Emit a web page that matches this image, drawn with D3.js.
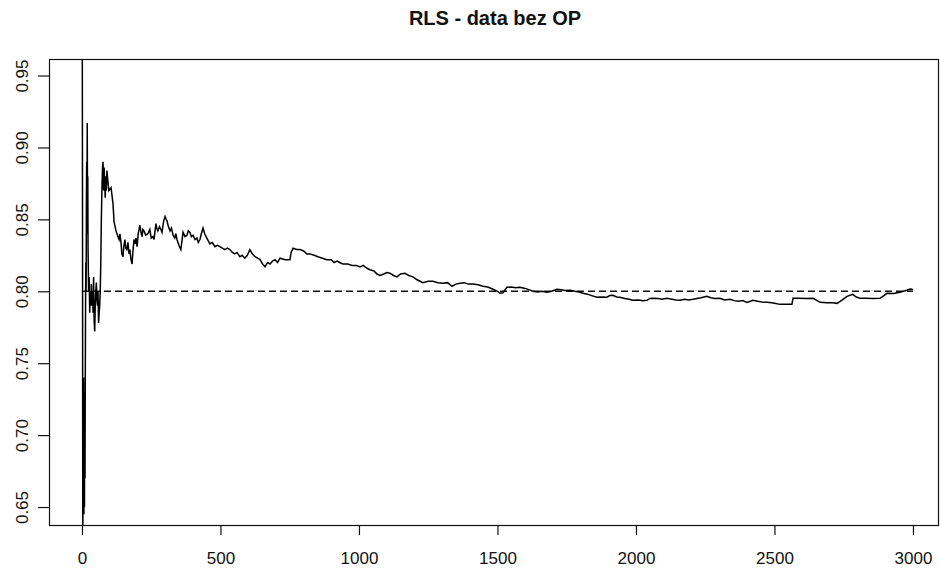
<!DOCTYPE html>
<html>
<head>
<meta charset="utf-8">
<script src="https://cdn.jsdelivr.net/npm/d3@7"></script>
<style>
  html, body { margin: 0; padding: 0; background: #fff; }
  svg { display: block; }
  text { font-family: "Liberation Sans", Arial, sans-serif; fill: #111; }
</style>
</head>
<body>
<svg id="chart" width="940" height="571"></svg>
<script>
const title = "RLS - data bez OP";
const xTicks = [0, 500, 1000, 1500, 2000, 2500, 3000];
const yTicks = [0.65, 0.70, 0.75, 0.80, 0.85, 0.90, 0.95];
const refLevel = [0.80];
const refRange = [0, 3000];

// observation index
const steps = [
  1, 2, 3, 4, 5, 6, 7, 8, 9, 10, 11, 12, 13, 14, 15, 16, 17, 18, 19, 20,
  21, 22, 24, 26, 28, 30, 32, 34, 36, 38, 40, 42, 44, 46, 48, 50, 52, 54, 56, 58,
  60, 62, 64, 66, 68, 70, 72, 74, 76, 78, 80, 82, 84, 86, 88, 90, 97, 105, 112, 116,
  123, 130, 134, 137, 141, 144, 148, 151, 155, 158, 162, 166, 170, 173, 177, 181, 184, 188, 192, 195,
  199, 203, 209, 213, 217, 220, 224, 230, 238, 245, 250, 256, 260, 264, 267, 270, 274, 280, 285, 289,
  295, 300, 304, 307, 312, 318, 323, 329, 335, 339, 343, 350, 357, 361, 365, 372, 379, 384, 390, 395,
  401, 408, 415, 420, 426, 431, 437, 443, 451, 456, 462, 470, 480, 489, 498, 507, 516, 525, 534, 543,
  552, 560, 570, 578, 588, 597, 606, 615, 625, 634, 643, 652, 661, 670, 679, 688, 697, 706, 715, 733,
  751, 755, 762, 775, 787, 800, 812, 823, 838, 852, 868, 884, 900, 910, 921, 930, 942, 960, 975, 990,
  1004, 1015, 1029, 1040, 1055, 1065, 1076, 1090, 1100, 1112, 1125, 1137, 1150, 1166, 1180, 1195, 1210, 1231, 1250, 1267,
  1285, 1303, 1320, 1336, 1350, 1365, 1380, 1395, 1412, 1430, 1448, 1465, 1484, 1500, 1509, 1520, 1534, 1550, 1565, 1581,
  1600, 1615, 1628, 1645, 1660, 1679, 1695, 1715, 1730, 1745, 1762, 1780, 1795, 1809, 1825, 1840, 1859, 1875, 1895, 1905,
  1917, 1930, 1942, 1960, 1975, 1989, 2010, 2025, 2040, 2050, 2061, 2080, 2095, 2112, 2130, 2145, 2159, 2175, 2190, 2206,
  2220, 2235, 2256, 2270, 2285, 2303, 2320, 2339, 2355, 2370, 2385, 2401, 2422, 2440, 2455, 2473, 2490, 2505, 2520, 2540,
  2563, 2567, 2590, 2615, 2639, 2650, 2664, 2690, 2710, 2726, 2745, 2762, 2783, 2795, 2809, 2830, 2855, 2881, 2895, 2906,
  2930, 2953, 2965, 2978, 2990, 2996, 3000
];
// estimated RLS coefficient
const estimate = [
  1.00, 0.852, 0.62, 0.70, 0.66, 0.74, 0.645, 0.72, 0.65, 0.73, 0.67, 0.74, 0.79, 0.82, 0.80, 0.86, 0.89, 0.84, 0.917, 0.865,
  0.88, 0.83, 0.80, 0.81, 0.785, 0.80, 0.79, 0.805, 0.79, 0.80, 0.785, 0.81, 0.78, 0.772, 0.79, 0.80, 0.806, 0.795, 0.79, 0.80,
  0.778, 0.785, 0.79, 0.80, 0.82, 0.85, 0.87, 0.885, 0.89, 0.87, 0.886, 0.875, 0.865, 0.88, 0.87, 0.884, 0.870, 0.872, 0.861, 0.848,
  0.842, 0.838, 0.836, 0.840, 0.834, 0.826, 0.824, 0.831, 0.836, 0.830, 0.829, 0.834, 0.826, 0.829, 0.822, 0.819, 0.828, 0.836, 0.833, 0.837,
  0.831, 0.840, 0.846, 0.841, 0.838, 0.843, 0.842, 0.839, 0.840, 0.843, 0.837, 0.838, 0.836, 0.842, 0.847, 0.844, 0.842, 0.845, 0.843, 0.841,
  0.849, 0.852, 0.850, 0.849, 0.845, 0.842, 0.844, 0.839, 0.837, 0.840, 0.836, 0.832, 0.829, 0.835, 0.841, 0.838, 0.839, 0.842, 0.841, 0.838,
  0.839, 0.836, 0.837, 0.834, 0.836, 0.840, 0.844, 0.840, 0.837, 0.835, 0.833, 0.834, 0.831, 0.832, 0.831, 0.830, 0.829, 0.830, 0.829, 0.827,
  0.826, 0.827, 0.824, 0.825, 0.823, 0.825, 0.829, 0.826, 0.824, 0.823, 0.822, 0.819, 0.817, 0.820, 0.819, 0.821, 0.822, 0.820, 0.823, 0.822,
  0.822, 0.827, 0.830, 0.829, 0.829, 0.828, 0.826, 0.826, 0.825, 0.824, 0.823, 0.822, 0.822, 0.820, 0.821, 0.820, 0.819, 0.819, 0.818, 0.818,
  0.817, 0.818, 0.816, 0.815, 0.814, 0.812, 0.811, 0.812, 0.813, 0.8125, 0.811, 0.810, 0.812, 0.8125, 0.811, 0.810, 0.808, 0.806, 0.807, 0.807,
  0.806, 0.8056, 0.806, 0.8035, 0.805, 0.8056, 0.806, 0.805, 0.805, 0.8045, 0.8035, 0.803, 0.8014, 0.800, 0.7986, 0.799, 0.8028, 0.803, 0.8025, 0.8028,
  0.802, 0.801, 0.800, 0.7995, 0.800, 0.7993, 0.800, 0.8014, 0.801, 0.8005, 0.8007, 0.800, 0.7995, 0.7986, 0.798, 0.797, 0.7958, 0.796, 0.7958, 0.797,
  0.7972, 0.796, 0.7958, 0.795, 0.7945, 0.7937, 0.794, 0.7935, 0.7937, 0.795, 0.7951, 0.795, 0.7945, 0.7951, 0.7945, 0.794, 0.7937, 0.7945, 0.794, 0.7944,
  0.795, 0.7955, 0.7965, 0.7955, 0.795, 0.7951, 0.794, 0.7944, 0.7935, 0.793, 0.7935, 0.7923, 0.7937, 0.793, 0.7925, 0.7923, 0.792, 0.7915, 0.7909, 0.7909,
  0.7909, 0.7951, 0.7951, 0.795, 0.7951, 0.794, 0.7923, 0.792, 0.792, 0.7916, 0.794, 0.7965, 0.7979, 0.796, 0.7951, 0.7951, 0.795, 0.7951, 0.797, 0.7986,
  0.7985, 0.7993, 0.800, 0.8007, 0.8015, 0.8014, 0.801
];

const svg = d3.select("#chart");
const box = { left: 49, right: 939, top: 59, bottom: 525 };

const x = d3.scaleLinear().domain([-119, 3094]).range([box.left, box.right]);
const y = d3.scaleLinear().domain([0.6375, 0.9615]).range([box.bottom, box.top]);

svg.append("defs").append("clipPath").attr("id", "plotclip")
  .append("rect")
  .attr("x", box.left).attr("y", box.top)
  .attr("width", box.right - box.left).attr("height", box.bottom - box.top);

// title
svg.append("text")
  .attr("x", 495).attr("y", 25)
  .attr("text-anchor", "middle")
  .style("font-size", "20px").style("font-weight", "bold")
  .text(title);

// frame
svg.append("rect")
  .attr("x", box.left + 0.5).attr("y", box.top + 0.5)
  .attr("width", box.right - box.left - 1).attr("height", box.bottom - box.top)
  .attr("fill", "none").attr("stroke", "#111").attr("stroke-width", 1.2);

// x axis
const xAxis = d3.axisBottom(x).tickValues(xTicks).tickSize(10).tickPadding(17).tickFormat(d3.format("d"));
const gx = svg.append("g").attr("transform", `translate(0,${box.bottom})`).call(xAxis);
gx.select(".domain").remove();
gx.selectAll(".tick line").attr("stroke", "#111").attr("stroke-width", 1.2);
gx.selectAll(".tick text").style("font-size", "17px").attr("fill", "#222")
  .style("font-family", "'Liberation Sans', Arial, sans-serif");

// y axis
const yAxis = d3.axisLeft(y).tickValues(yTicks).tickSize(11).tickFormat(d3.format(".2f"));
const gy = svg.append("g").attr("transform", `translate(${box.left},0)`).call(yAxis);
gy.select(".domain").remove();
gy.selectAll(".tick line").attr("stroke", "#111").attr("stroke-width", 1.2);
gy.selectAll(".tick text")
  .attr("x", null).attr("dy", null)
  .attr("transform", "translate(-21,0) rotate(-90)")
  .attr("text-anchor", "middle")
  .style("font-size", "17px").attr("fill", "#222")
  .style("font-family", "'Liberation Sans', Arial, sans-serif");

const plot = svg.append("g").attr("clip-path", "url(#plotclip)");

// reference dashed line
plot.append("line")
  .attr("x1", x(refRange[0])).attr("x2", x(refRange[1]))
  .attr("y1", y(refLevel[0])).attr("y2", y(refLevel[0]))
  .attr("stroke", "#111").attr("stroke-width", 1.5).attr("stroke-dasharray", "7,4");

// series
const pts = steps.map((s, i) => [s, estimate[i]]);
const line = d3.line().x(d => x(d[0])).y(d => y(d[1]));
plot.append("path")
  .datum(pts)
  .attr("d", line)
  .attr("fill", "none").attr("stroke", "#000").attr("stroke-width", 1.5)
  .attr("stroke-linejoin", "miter");
</script>
</body>
</html>
